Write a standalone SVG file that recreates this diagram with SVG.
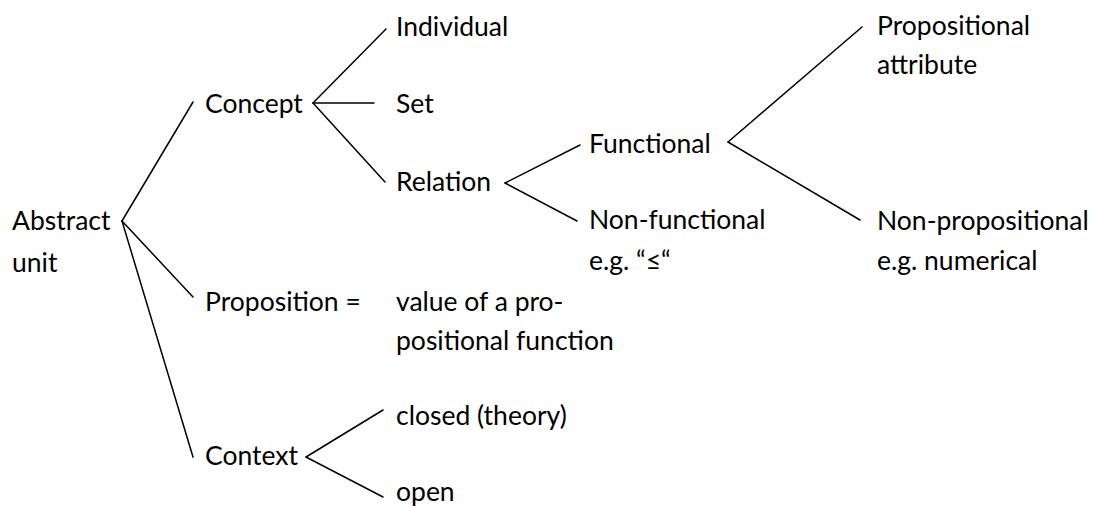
<svg xmlns="http://www.w3.org/2000/svg" width="1095" height="506" viewBox="0 0 1095 506">
<style>
text{font-family:Lato,"Open Sans","Liberation Sans",sans-serif;font-size:26.5px;fill:#000}
.c line{stroke:#000;stroke-width:1.5;stroke-linecap:round}
</style>
<rect width="1095" height="506" fill="#fff"/>
<g class="c" id="connectors">
<line x1="122" y1="221" x2="193" y2="102"/>
<line x1="122" y1="221" x2="193" y2="297"/>
<line x1="122" y1="221" x2="193" y2="457"/>
<line x1="313" y1="103" x2="386" y2="29"/>
<line x1="313" y1="103" x2="374" y2="103"/>
<line x1="313" y1="103" x2="385" y2="182"/>
<line x1="505" y1="183" x2="580" y2="145"/>
<line x1="505" y1="183" x2="577" y2="221"/>
<line x1="728" y1="142" x2="862" y2="27"/>
<line x1="728" y1="142" x2="860" y2="220"/>
<line x1="306" y1="457" x2="383" y2="410"/>
<line x1="306" y1="457" x2="383" y2="497"/>
</g>
<g id="abstract"><text x="12" y="230">Abstract</text><text x="12" y="272">unit</text></g>
<g id="concept"><text x="205" y="113">Concept</text></g>
<g id="individual"><text x="396" y="36">Individual</text></g>
<g id="set"><text x="396" y="113">Set</text></g>
<g id="relation"><text x="396" y="191">Relation</text></g>
<g id="functional"><text x="589" y="153">Functional</text></g>
<g id="nonfunctional"><text x="589" y="229">Non-functional</text><text x="589" y="270">e.g. “≤“</text></g>
<g id="propattr"><text x="877" y="35">Propositional</text><text x="877" y="74">attribute</text></g>
<g id="nonprop"><text x="877" y="230">Non-propositional</text><text x="877" y="270">e.g. numerical</text></g>
<g id="proposition"><text x="205" y="311">Proposition =</text></g>
<g id="value"><text x="396" y="311">value of a pro-</text><text x="396" y="350">positional function</text></g>
<g id="context"><text x="205" y="465">Context</text></g>
<g id="closed"><text x="396" y="425">closed (theory)</text></g>
<g id="open"><text x="396" y="501">open</text></g>
</svg>
